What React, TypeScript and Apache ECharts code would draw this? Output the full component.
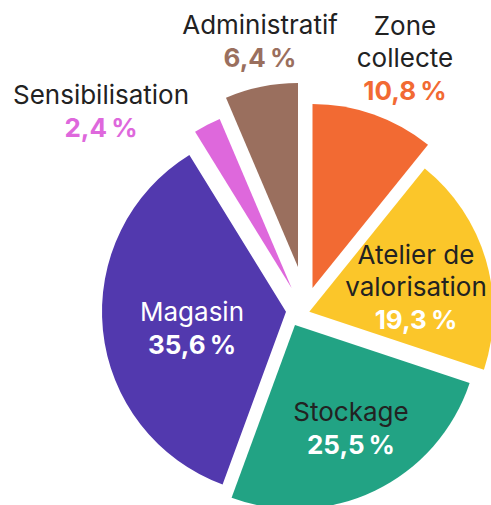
import { useEffect, useRef } from 'react';
import * as echarts from 'echarts';

// ---- data ----
const categories = ['Zone collecte', 'Atelier de valorisation', 'Stockage', 'Magasin', 'Sensibilisation', 'Administratif'];
const shares = [10.8, 19.3, 25.5, 35.6, 2.4, 6.4];
const labelNames = ['Zone\ncollecte', 'Atelier de\nvalorisation', 'Stockage', 'Magasin', 'Sensibilisation', 'Administratif'];

// ---- styles / layout ----
const sliceColors = ['#F26A33', '#FBC62A', '#22A384', '#5239AE', '#DE68DC', '#9A6F5E'];
const nameColors = ['#222222', '#222222', '#222222', '#FFFFFF', '#222222', '#222222'];
const valueColors = ['#F26A33', '#FFFFFF', '#FFFFFF', '#FFFFFF', '#DE68DC', '#9A6F5E'];
// tip of each exploded slice
const sliceTips = [[312.5, 288], [309.3, 311.7], [295, 325], [286, 311.7], [291.7, 288.3], [298, 267]];
const labelAnchors = [[405, 58], [416, 287], [351, 428], [192, 328], [101, 111], [260, 41]];
const RADIUS = 184;
const FONT = 'Inter, Roboto, sans-serif';

function fmt(v: number) {
  return v.toFixed(1).replace('.', ',') + '\u202F%';
}

export default function App() {
  const ref = useRef<HTMLDivElement>(null);
  useEffect(() => {
    if (!ref.current) return;
    const chart = echarts.init(ref.current, undefined, { renderer: 'svg' });
    const series = categories.map((_, i) => ({
      type: 'pie',
      radius: RADIUS,
      center: sliceTips[i],
      startAngle: 90,
      clockwise: true,
      silent: true,
      avoidLabelOverlap: false,
      labelLine: { show: false },
      labelLayout: { x: labelAnchors[i][0], y: labelAnchors[i][1], align: 'center', verticalAlign: 'middle' },
      data: categories.map((n, j) => ({
        name: n,
        value: shares[j],
        itemStyle: { color: sliceColors[j], opacity: j === i ? 1 : 0 },
        label:
          j === i
            ? {
                show: true,
                position: 'inside',
                align: 'center',
                formatter:
                  labelNames[j]
                    .split('\n')
                    .map((s) => `{n|${s}}`)
                    .join('\n') + `\n{v|${fmt(shares[j])}}`,
                rich: {
                  n: { fontFamily: FONT, fontSize: 26, color: nameColors[j], lineHeight: 32, align: 'center' },
                  v: { fontFamily: FONT, fontSize: 26, fontWeight: 'bold', color: valueColors[j], lineHeight: 33, align: 'center' },
                },
              }
            : { show: false },
      })),
    }));
    chart.setOption({
      animation: false,
      backgroundColor: '#FFFFFF',
      series,
    } as any);
    return () => chart.dispose();
  }, []);
  return (
    <div
      ref={ref}
      style={{ position: 'fixed', left: 0, top: 0, width: 491, height: 505, background: '#fff' }}
    />
  );
}
